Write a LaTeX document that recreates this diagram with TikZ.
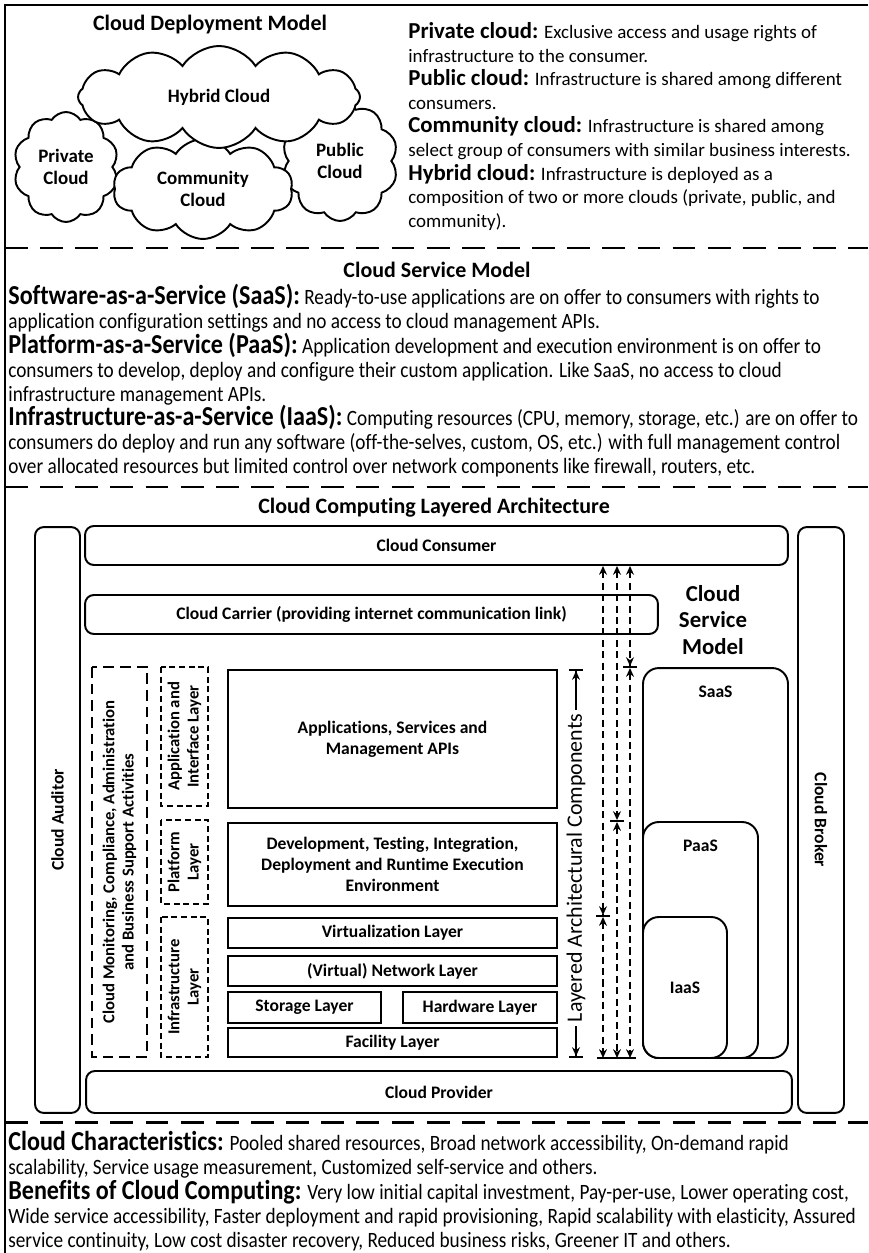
\documentclass[tikz,border=0pt]{standalone}
\usepackage{fontspec}
\setmainfont{Carlito}[Ligatures=NoCommon]
\newfontfamily\narrowfont{Carlito}[FakeStretch=0.88, Ligatures=NoCommon]
\usetikzlibrary{shapes.symbols,arrows.meta,positioning}

\newcommand{\cloudhd}[1]{{\fontsize{13}{13.46}\selectfont\bfseries #1}}
\newcommand{\servhd}[1]{{\fontsize{15.6}{13.75}\selectfont\bfseries #1}}
\newcommand{\tightlines}{\lineskiplimit=-100pt\relax}

\tikzset{
  sepline/.style={line width=1.7pt, dash pattern=on 13pt off 7pt},
  sectitle/.style={font=\fontsize{12.5}{15}\selectfont\bfseries},
  cloudnode/.style={cloud, draw, fill=white, line width=1.1pt, cloud puffs=10,
    cloud puff arc=115, cloud ignores aspect, inner sep=0pt, align=center,
    font=\fontsize{10.8}{12.5}\selectfont\bfseries},
  bodytext/.style={anchor=north west, align=left, inner sep=0pt},
  roundbox/.style={draw, line width=1.1pt, rounded corners=5pt, inner sep=0pt,
    align=center, font=\fontsize{10}{12}\selectfont\bfseries},
  layerbox/.style={draw, line width=1.1pt, inner sep=0pt, align=center,
    font=\fontsize{10}{12}\selectfont\bfseries},
  svcbox/.style={draw, fill=white, line width=1.1pt, rounded corners=9pt, inner sep=0pt,
    font=\fontsize{10}{12}\selectfont\bfseries},
  dashbox/.style={draw, line width=0.8pt, dash pattern=on 3.5pt off 2pt, inner sep=0pt,
    align=center, rotate=90, font=\fontsize{9.5}{11}\selectfont\bfseries},
  dasharrow/.style={line width=1.1pt, dash pattern=on 4pt off 2.5pt},
  stl/.tip={Stealth[length=5pt,width=4.5pt]},
}

\begin{document}
\begin{tikzpicture}[x=0.02cm, y=-0.02cm]
\useasboundingbox (0,0) rectangle (868,1253);
% frame and section separators
\draw[line width=1.7pt] (5,1253) -- (5,5) -- (868,5);
\draw[sepline] (5,248) -- (868,248);
\draw[sepline] (5,487) -- (868,487);
\draw[sepline] (5,1122) -- (868,1122);

% deployment models
\node[sectitle] (deptitle) at (210,25) {Cloud Deployment Model};
\node[cloudnode, minimum width=2.1cm, minimum height=2.2cm] (private) at (66,167) {Private\\Cloud};
\node[cloudnode, minimum width=2.32cm, minimum height=2.4cm] (public) at (340,161) {Public\\Cloud};
\node[cloudnode, minimum width=3.6cm, minimum height=2cm] (community) at (203,189) {Community\\Cloud};
\node[cloudnode, cloud puffs=12, minimum width=5.64cm, minimum height=2.04cm] (hybrid) at (219,97) {Hybrid Cloud};
\node[bodytext, font=\fontsize{10.8}{13.46}\selectfont] (deptext) at (408,22) {%
\cloudhd{Private cloud:} Exclusive access and usage rights of\\
infrastructure to the consumer.\\
\cloudhd{Public cloud:} Infrastructure is shared among different\\
consumers.\\
\cloudhd{Community cloud:} Infrastructure is shared among\\
select group of consumers with similar business interests.\\
\cloudhd{Hybrid cloud:} Infrastructure is deployed as a\\
composition of two or more clouds (private, public, and\\
community).};

% service models
\node[sectitle] (svctitle) at (437,270) {Cloud Service Model};
\node[bodytext, font=\narrowfont\fontsize{12.45}{13.75}\selectfont\tightlines] (svctext) at (8,284) {%
\servhd{Software-as-a-Service (SaaS):} Ready-to-use applications are on offer to consumers with rights to\\
application configuration settings and no access to cloud management APIs.\\
\servhd{Platform-as-a-Service (PaaS):} Application development and execution environment is on offer to\\
consumers to develop, deploy and configure their custom application. Like SaaS, no access to cloud\\
infrastructure management APIs.\\
\servhd{Infrastructure-as-a-Service (IaaS):} Computing resources (CPU, memory, storage, etc.) are on offer to\\
consumers do deploy and run any software (off-the-selves, custom, OS, etc.) with full management control\\
over allocated resources but limited control over network components like firewall, routers, etc.};

% layered architecture
\node[sectitle] (archtitle) at (434,508) {Cloud Computing Layered Architecture};
\node[roundbox, rotate=90, minimum width=11.72cm, minimum height=0.9cm] (auditor) at (57.5,820) {Cloud Auditor};
\node[roundbox, rotate=-90, minimum width=11.72cm, minimum height=0.92cm] (broker) at (821,820) {Cloud Broker};
\node[roundbox, minimum width=14.06cm, minimum height=0.78cm] (consumer) at (436.5,545.5) {Cloud Consumer};
\node[roundbox, minimum width=11.46cm, minimum height=0.78cm] (carrier) at (371.5,614.5) {Cloud Carrier (providing internet communication link)};
\node[roundbox, minimum width=14.12cm, minimum height=0.84cm] (provider) at (439,1092) {Cloud Provider};

\node[dashbox, line width=1.1pt, dash pattern=on 6pt off 3.5pt, minimum width=7.8cm, minimum height=1.1cm] (monitor) at (119.5,862)
  {Cloud Monitoring, Compliance, Administration\\and Business Support Activities};
\node[dashbox, minimum width=2.78cm, minimum height=0.94cm] (appif) at (184.5,736.5) {Application and\\Interface Layer};
\node[dashbox, minimum width=1.68cm, minimum height=0.94cm] (platform) at (184.5,862) {Platform\\Layer};
\node[dashbox, minimum width=2.8cm, minimum height=0.94cm] (infra) at (184.5,987) {Infrastructure\\Layer};

\node[layerbox, minimum width=6.58cm, minimum height=2.76cm] (apps) at (392.5,739) {Applications, Services and\\Management APIs};
\node[layerbox, minimum width=6.58cm, minimum height=1.66cm] (devel) at (392.5,864.5) {Development, Testing, Integration,\\Deployment and Runtime Execution\\Environment};
\node[layerbox, minimum width=6.58cm, minimum height=0.6cm] (virt) at (392.5,933) {Virtualization Layer};
\node[layerbox, minimum width=6.58cm, minimum height=0.6cm] (network) at (392.5,971) {(Virtual) Network Layer};
\node[layerbox, minimum width=3.06cm, minimum height=0.62cm] (storage) at (304.5,1007.5) {Storage Layer};
\node[layerbox, minimum width=3.08cm, minimum height=0.62cm] (hardware) at (480,1007.5) {Hardware Layer};
\node[layerbox, minimum width=6.58cm, minimum height=0.58cm] (facility) at (392.5,1042.5) {Facility Layer};

\node[rotate=90, font=\fontsize{12.5}{14}\selectfont, inner sep=2pt] (layered) at (576,868) {Layered Architectural Components};
\draw[line width=1.1pt, -{stl[]Bar[width=8pt]}] (layered.east) -- (layered.east |- apps.north);
\draw[line width=1.1pt, -{stl[]Bar[width=8pt]}] (layered.west) -- (layered.west |- facility.south);

% service model scopes
\node[font=\fontsize{13}{15.3}\selectfont\bfseries, align=center] (svcmodel) at (713,620) {Cloud\\Service\\Model};
\node[svcbox, minimum width=2.9cm, minimum height=7.8cm] (saas) at (715.5,863) {};
\node[svcbox, minimum width=2.3cm, minimum height=4.72cm] (paas) at (700.5,940) {};
\node[svcbox, minimum width=1.68cm, minimum height=2.82cm] (iaas) at (685,987.5) {IaaS};
\node[below=0.38cm of saas.north, inner sep=0pt, font=\fontsize{10}{12}\selectfont\bfseries] (saaslbl) {SaaS};
\node[below=0.37cm of paas.north, inner sep=0pt, font=\fontsize{10}{12}\selectfont\bfseries] (paaslbl) {PaaS};

\coordinate (jsaas) at (630,668);
\coordinate (jpaas) at (617,822);
\coordinate (jiaas) at (603,917);
\foreach \j in {jsaas,jpaas,jiaas}{
  \draw[dasharrow, {stl[]}-{stl[]Bar[width=8pt]}] (consumer.south -| \j) -- (\j);
  \draw[dasharrow, {stl[]}-{stl[]}] (\j) -- (\j |- facility.south);
}
\draw[line width=1.1pt] (jiaas |- facility.south) ++(-6,0) -- ++(39,0);

% characteristics and benefits
\node[bodytext, font=\narrowfont\fontsize{12.45}{13.8}\selectfont\tightlines] (chartext) at (8,1131) {%
\servhd{Cloud Characteristics:} Pooled shared resources, Broad network accessibility, On-demand rapid\\
scalability, Service usage measurement, Customized self-service and others.\\
\servhd{Benefits of Cloud Computing:} Very low initial capital investment, Pay-per-use, Lower operating cost,\\
Wide service accessibility, Faster deployment and rapid provisioning, Rapid scalability with elasticity, Assured\\
service continuity, Low cost disaster recovery, Reduced business risks, Greener IT and others.};
\end{tikzpicture}
\end{document}
